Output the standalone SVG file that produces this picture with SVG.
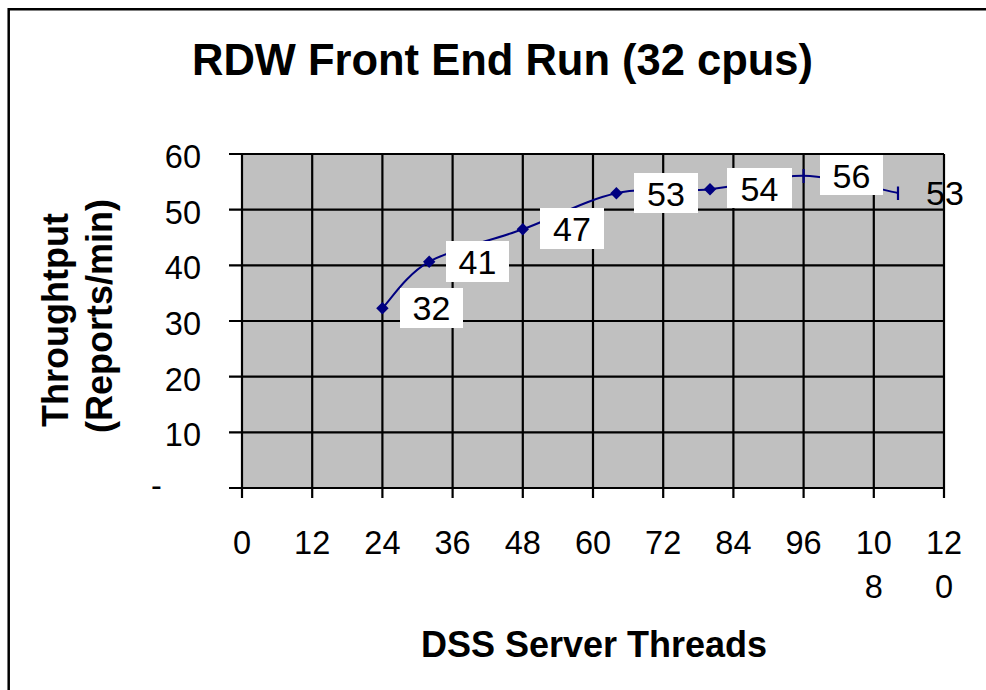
<svg xmlns="http://www.w3.org/2000/svg" width="986" height="690" viewBox="0 0 986 690">
  <style>
    text { font-family: "Liberation Sans", Arial, sans-serif; fill: #000; }
    .title { font-size: 43.5px; font-weight: bold; text-anchor: middle; }
    .axis-title { font-size: 36px; font-weight: bold; text-anchor: middle; }
    .ytick { font-size: 32.5px; text-anchor: end; }
    .xtick { font-size: 32.5px; text-anchor: middle; }
    .dlabel { font-size: 34px; text-anchor: middle; }
    .grid { stroke: #000; stroke-width: 2.2; fill: none; }
    .lbox { fill: #fff; stroke: none; }
    .series { stroke: #000080; stroke-width: 2; fill: none; }
    .mark { fill: #000080; }
  </style>

  <rect x="0" y="0" width="986" height="690" fill="#fff"/>
  <!-- chart frame (top and left edges inside the canvas) -->
  <path d="M8.7 690 V9.3 H986" fill="none" stroke="#000" stroke-width="2.5"/>

  <g id="title">
    <text class="title" x="502.5" y="75">RDW Front End Run (32 cpus)</text>
  </g>

  <!-- plot area: x 0..120 -> 242..944, y 0..60 -> 488..154 -->
  <g id="plot-area">
    <rect x="242" y="154" width="702" height="334" fill="#C0C0C0"/>
    <g class="grid">
      <path d="M229 154 H944 M229 209.7 H944 M229 265.3 H944 M229 321 H944 M229 376.7 H944 M229 432.3 H944 M229 488 H944"/>
      <path d="M242 154 V498 M312.2 154 V498 M382.4 154 V498 M452.6 154 V498 M522.8 154 V498 M593 154 V498 M663.2 154 V498 M733.4 154 V498 M803.6 154 V498 M873.8 154 V498 M944 154 V498"/>
    </g>
  </g>

  <g id="y-axis">
    <text class="ytick" x="201" y="168">60</text>
    <text class="ytick" x="201" y="223.7">50</text>
    <text class="ytick" x="201" y="279.3">40</text>
    <text class="ytick" x="201" y="335">30</text>
    <text class="ytick" x="201" y="390.7">20</text>
    <text class="ytick" x="201" y="446.3">10</text>
    <text x="151" y="497" style="font-size:32.5px">-</text>
    <text class="axis-title" transform="translate(67.5 320) rotate(-90)">Throughtput</text>
    <text class="axis-title" transform="translate(111.5 316) rotate(-90)">(Reports/min)</text>
  </g>

  <g id="x-axis">
    <text class="xtick" x="242" y="554">0</text>
    <text class="xtick" x="312.2" y="554">12</text>
    <text class="xtick" x="382.4" y="554">24</text>
    <text class="xtick" x="452.6" y="554">36</text>
    <text class="xtick" x="522.8" y="554">48</text>
    <text class="xtick" x="593" y="554">60</text>
    <text class="xtick" x="663.2" y="554">72</text>
    <text class="xtick" x="733.4" y="554">84</text>
    <text class="xtick" x="803.6" y="554">96</text>
    <text class="xtick" x="873.8" y="554">10</text>
    <text class="xtick" x="873.8" y="598">8</text>
    <text class="xtick" x="944" y="554">12</text>
    <text class="xtick" x="944" y="598">0</text>
    <text class="axis-title" x="594" y="657">DSS Server Threads</text>
  </g>

  <g id="series">
    <path class="series" d="M382.4 308.2 C390.2 300.45 405.8 274.85 429.2 261.7 C452.6 248.55 491.6 240.7 522.8 229.3 C554 217.9 585.2 199.97 616.4 193.3 C647.6 186.63 678.8 192.23 710 189.3 C741.2 186.37 772.27 175.08 803.6 175.7 C834.93 176.32 882.27 190.12 898 193"/>
    <g class="mark">
      <path d="M382.4 302 L388.6 308.2 L382.4 314.4 L376.2 308.2 Z"/>
      <path d="M429.2 255.5 L435.4 261.7 L429.2 267.9 L423 261.7 Z"/>
      <path d="M522.8 223.1 L529 229.3 L522.8 235.5 L516.6 229.3 Z"/>
      <path d="M616.4 187.1 L622.6 193.3 L616.4 199.5 L610.2 193.3 Z"/>
      <path d="M710 183.1 L716.2 189.3 L710 195.5 L703.8 189.3 Z"/>
    </g>
    <path d="M803.6 169 V183 M898 186.5 V200" stroke="#000080" stroke-width="2.2"/>
  </g>

  <g id="data-labels">
    <rect class="lbox" x="400" y="288" width="63" height="40"/>
    <text class="dlabel" x="431.5" y="320">32</text>
    <rect class="lbox" x="446" y="241" width="63" height="41"/>
    <text class="dlabel" x="477.5" y="273.5">41</text>
    <rect class="lbox" x="540" y="208" width="64" height="41"/>
    <text class="dlabel" x="572" y="240.5">47</text>
    <rect class="lbox" x="634" y="173" width="64" height="40"/>
    <text class="dlabel" x="666" y="206">53</text>
    <rect class="lbox" x="727" y="168" width="65" height="40"/>
    <text class="dlabel" x="759.5" y="201">54</text>
    <rect class="lbox" x="820" y="155" width="63" height="40"/>
    <text class="dlabel" x="851.5" y="188">56</text>
    <text x="926" y="205" style="font-size:34px">53</text>
  </g>
</svg>
